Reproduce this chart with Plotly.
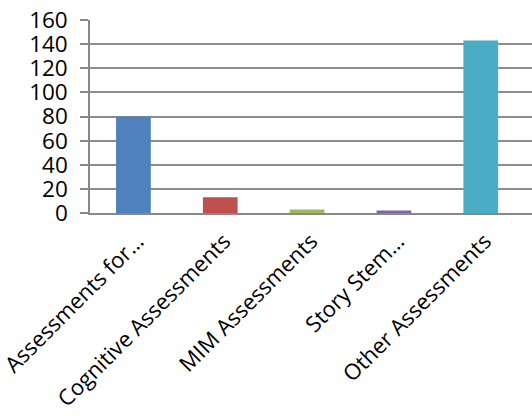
import plotly.graph_objects as go

categories = ["Assessments for…", "Cognitive Assessments", "MIM Assessments", "Story Stem…", "Other Assessments"]
values = [80, 13, 3, 2, 143]
colors = ["#4F81BD", "#C0504D", "#9BBB59", "#8064A2", "#4BACC6"]
y_ticks = [0, 20, 40, 60, 80, 100, 120, 140, 160]

fig = go.Figure(go.Bar(x=categories, y=values, marker=dict(color=colors, line=dict(width=0)), width=0.4))

fig.update_layout(
    width=532, height=420,
    margin=dict(l=90, r=0, t=20, b=207),
    plot_bgcolor="white", paper_bgcolor="white",
    font=dict(family="Open Sans", size=22.5, color="black"),
    showlegend=False,
)
fig.update_xaxes(
    range=[-0.5, 4.59], tickangle=-45, showgrid=False, automargin=False,
    showline=True, linecolor="#888888", linewidth=1.5,
    ticks="", tickfont=dict(size=22), ticklabelstandoff=5, ticklabelshift=4,
)
fig.update_yaxes(
    range=[0, 160], tickvals=y_ticks, showgrid=True, gridcolor="#8c8c8c", gridwidth=1.5,
    showline=True, linecolor="#888888", linewidth=1.5, automargin=False,
    ticks="outside", ticklen=8, tickcolor="#888888", tickwidth=1.5,
    tickfont=dict(size=22.5), zeroline=False, ticklabelstandoff=8,
)
fig.write_html("out.html")
